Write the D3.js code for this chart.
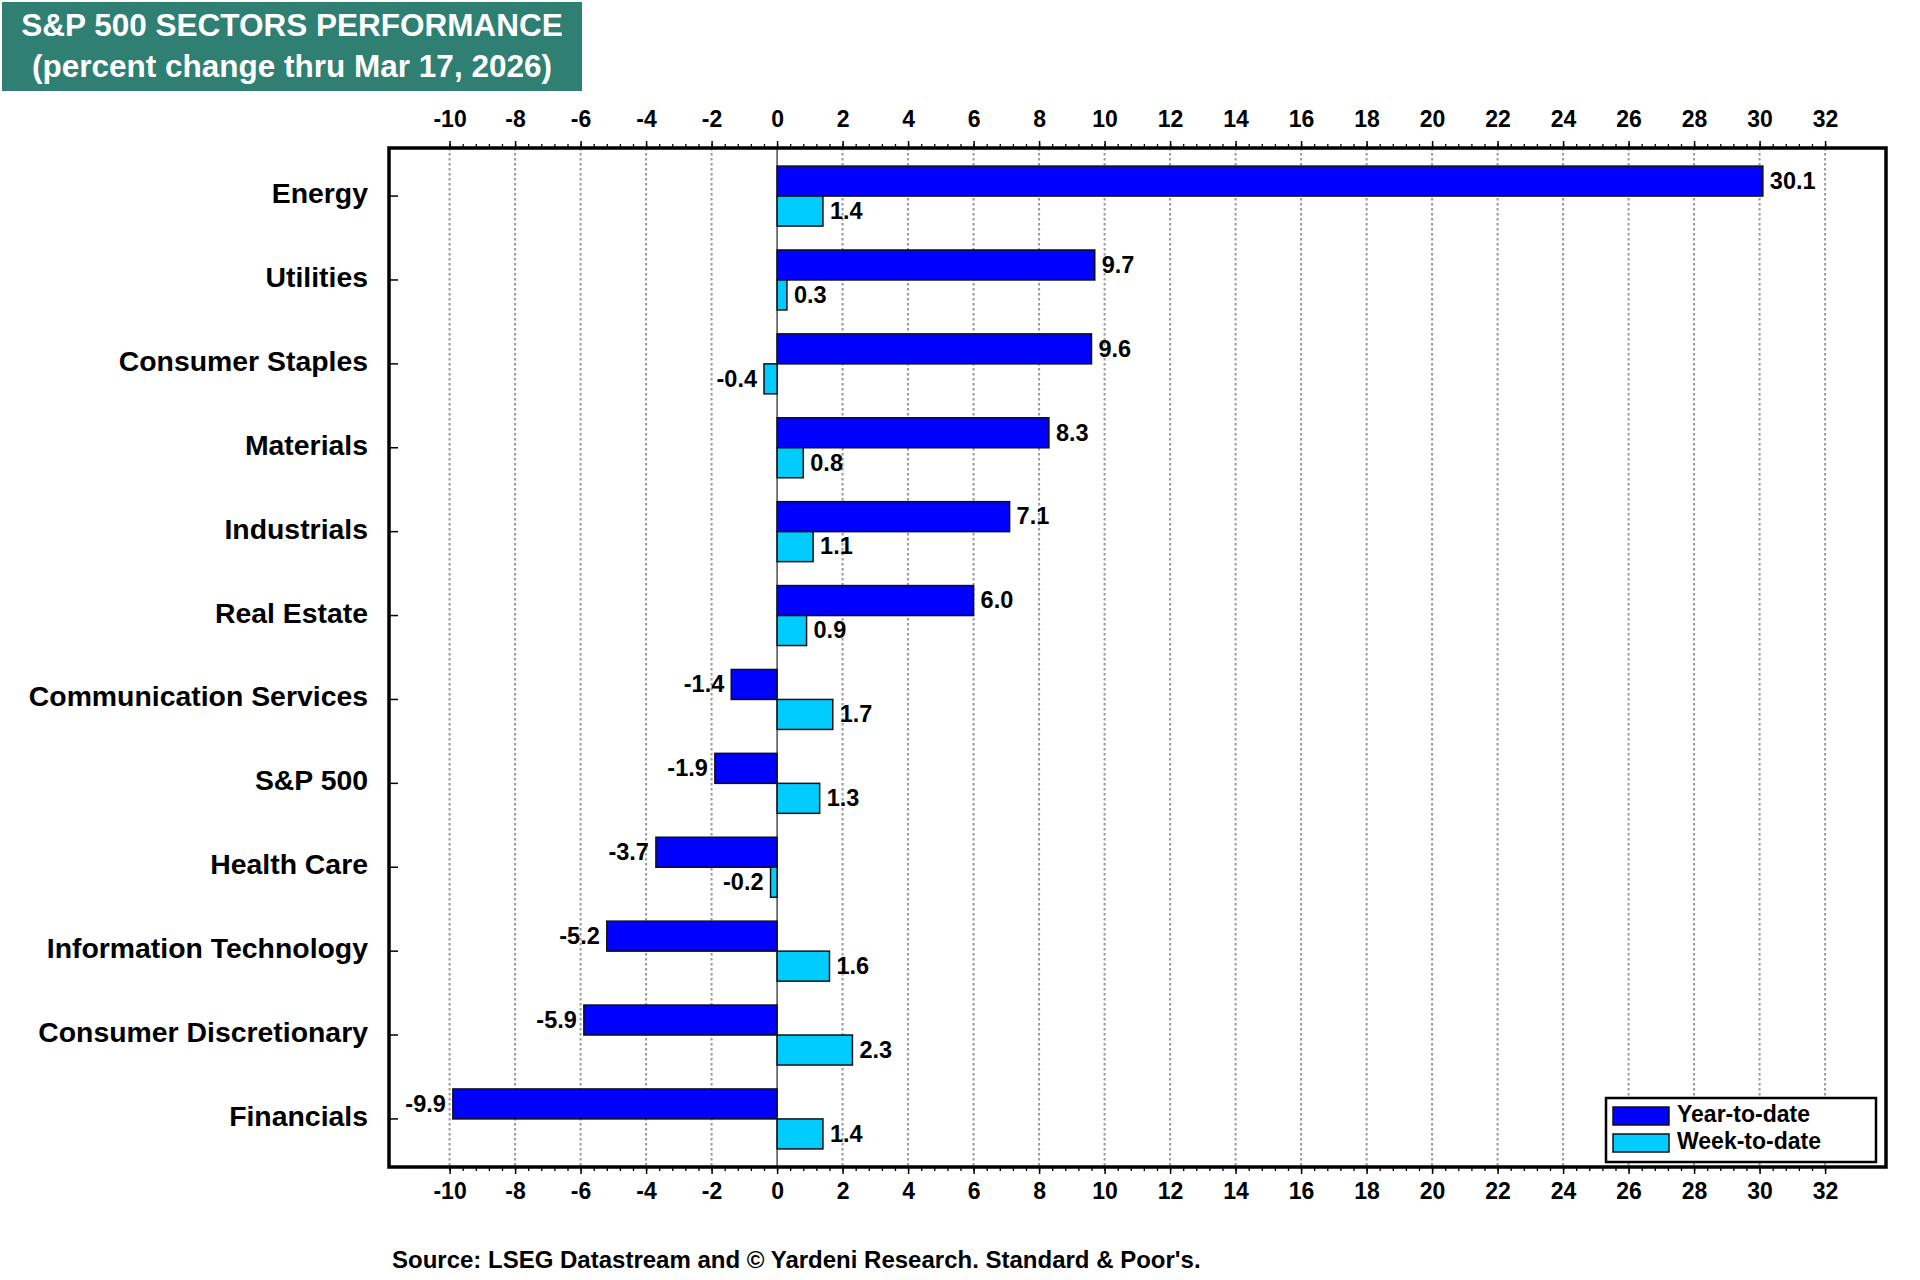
<!DOCTYPE html>
<html>
<head>
<meta charset="utf-8">
<script src="https://d3js.org/d3.v7.min.js"></script>
<style>
    body { margin: 0; background: #ffffff; }
    text { font-family: "Liberation Sans", Arial, sans-serif; font-weight: bold; }
</style>
</head>
<body>
<script>
    // sectors, top to bottom
    var categories = ["Energy", "Utilities", "Consumer Staples", "Materials", "Industrials",
        "Real Estate", "Communication Services", "S&P 500", "Health Care",
        "Information Technology", "Consumer Discretionary", "Financials"];
    var ytdValues = [30.1, 9.7, 9.6, 8.3, 7.1, 6.0, -1.4, -1.9, -3.7, -5.2, -5.9, -9.9];
    var wtdValues = [1.4, 0.3, -0.4, 0.8, 1.1, 0.9, 1.7, 1.3, -0.2, 1.6, 2.3, 1.4];
    var seriesNames = ["Year-to-date", "Week-to-date"];
    var majorTicks = [-10, -8, -6, -4, -2, 0, 2, 4, 6, 8, 10, 12, 14, 16, 18, 20, 22, 24, 26, 28, 30, 32];
    var titleLines = ["S&P 500 SECTORS PERFORMANCE", "(percent change thru Mar 17, 2026)"];
    var sourceText = "Source: LSEG Datastream and \u00a9 Yardeni Research. Standard & Poor's.";

    var W = 1920, H = 1280;
    var frame = {left: 389, top: 148, right: 1886, bottom: 1167};
    var colors = {"Year-to-date": "#0000ff", "Week-to-date": "#00ccff"};

    var svg = d3.select("body").append("svg")
        .attr("width", W)
        .attr("height", H);

    var x = d3.scaleLinear()
        .domain([-11.85, 33.86])
        .range([frame.left, frame.right]);

    var y = d3.scaleBand()
        .domain(categories)
        .range([frame.top, frame.bottom])
        .paddingInner(0.285)
        .paddingOuter(0.2155);

    var ySub = d3.scaleBand()
        .domain(seriesNames)
        .range([0, y.bandwidth()]);

    var rows = categories.map(function(c, i) {
        return {cat: c, values: [
            {name: seriesNames[0], value: ytdValues[i]},
            {name: seriesNames[1], value: wtdValues[i]}
        ]};
    });

    // title box
    svg.append("rect")
        .attr("x", 2).attr("y", 2)
        .attr("width", 580).attr("height", 89)
        .attr("fill", "#2f7f72");
    svg.selectAll(".title")
        .data(titleLines)
        .enter().append("text")
        .attr("class", "title")
        .attr("x", 292)
        .attr("y", function(d, i) { return 36 + i * 41; })
        .attr("text-anchor", "middle")
        .attr("fill", "#ffffff")
        .style("font-size", "31.5px")
        .text(function(d) { return d; });

    // grid lines
    svg.selectAll(".grid")
        .data(majorTicks.filter(function(d) { return d !== 0; }))
        .enter().append("line")
        .attr("class", "grid")
        .attr("x1", function(d) { return x(d); })
        .attr("x2", function(d) { return x(d); })
        .attr("y1", frame.top)
        .attr("y2", frame.bottom)
        .attr("stroke", "#999999")
        .attr("stroke-width", 2)
        .attr("stroke-dasharray", "2.5,2.5");

    // zero line
    svg.append("line")
        .attr("x1", x(0)).attr("x2", x(0))
        .attr("y1", frame.top).attr("y2", frame.bottom)
        .attr("stroke", "#222")
        .attr("stroke-width", 1.2);

    // bars
    var groups = svg.selectAll(".row")
        .data(rows)
        .enter().append("g")
        .attr("class", "row")
        .attr("transform", function(d) { return "translate(0," + y(d.cat) + ")"; });

    groups.selectAll("rect")
        .data(function(d) { return d.values; })
        .enter().append("rect")
        .attr("x", function(d) { return x(Math.min(0, d.value)); })
        .attr("y", function(d) { return ySub(d.name); })
        .attr("width", function(d) { return Math.abs(x(d.value) - x(0)); })
        .attr("height", ySub.bandwidth())
        .attr("fill", function(d) { return colors[d.name]; })
        .attr("stroke", "#111")
        .attr("stroke-width", 1.5);

    groups.selectAll(".val")
        .data(function(d) { return d.values; })
        .enter().append("text")
        .attr("class", "val")
        .attr("x", function(d) { return d.value >= 0 ? x(d.value) + 7 : x(d.value) - 7; })
        .attr("y", function(d) { return ySub(d.name) + ySub.bandwidth() / 2; })
        .attr("dy", "0.33em")
        .attr("text-anchor", function(d) { return d.value >= 0 ? "start" : "end"; })
        .style("font-size", "23.5px")
        .text(function(d) { return d.value.toFixed(1); });

    // category labels and their ticks
    svg.selectAll(".cat")
        .data(categories)
        .enter().append("text")
        .attr("class", "cat")
        .attr("x", 368)
        .attr("y", function(d) { return y(d) + y.bandwidth() / 2 - 1.5; })
        .attr("dy", "0.3em")
        .attr("text-anchor", "end")
        .style("font-size", "28.4px")
        .text(function(d) { return d; });

    svg.selectAll(".ctick")
        .data(categories)
        .enter().append("line")
        .attr("class", "ctick")
        .attr("x1", frame.left).attr("x2", frame.left + 9)
        .attr("y1", function(d) { return y(d) + y.bandwidth() / 2; })
        .attr("y2", function(d) { return y(d) + y.bandwidth() / 2; })
        .attr("stroke", "#000")
        .attr("stroke-width", 1.5);

    // axes top and bottom
    var minorTicks = d3.range(0, 106).map(function(i) { return -10 + i * 0.4; });

    function drawAxis(axisFn, ypos, pad) {
        var gMinor = svg.append("g")
            .attr("transform", "translate(0," + ypos + ")")
            .call(axisFn(x).tickValues(minorTicks).tickSize(4).tickFormat(""));
        gMinor.select(".domain").remove();
        gMinor.selectAll("line").attr("stroke-width", 1.3);

        var gMajor = svg.append("g")
            .attr("transform", "translate(0," + ypos + ")")
            .call(axisFn(x).tickValues(majorTicks).tickSize(7).tickPadding(pad)
                .tickFormat(function(d) { return String(d); }));
        gMajor.select(".domain").remove();
        gMajor.selectAll("line").attr("stroke-width", 1.5);
        gMajor.selectAll("text")
            .attr("fill", "#000")
            .style("font-size", "23px")
            .style("font-family", '"Liberation Sans", Arial, sans-serif')
            .style("font-weight", "bold");
    }
    drawAxis(d3.axisTop, frame.top, 14);
    drawAxis(d3.axisBottom, frame.bottom, 9);

    // frame
    svg.append("rect")
        .attr("x", frame.left).attr("y", frame.top)
        .attr("width", frame.right - frame.left)
        .attr("height", frame.bottom - frame.top)
        .attr("fill", "none")
        .attr("stroke", "#000")
        .attr("stroke-width", 3.5);

    // legend
    var legend = svg.append("g").attr("transform", "translate(1606,1098)");
    legend.append("rect")
        .attr("width", 270).attr("height", 64)
        .attr("fill", "#fff")
        .attr("stroke", "#000")
        .attr("stroke-width", 2.5);
    var li = legend.selectAll(".li")
        .data(seriesNames)
        .enter().append("g")
        .attr("class", "li")
        .attr("transform", function(d, i) { return "translate(7," + (9 + i * 27) + ")"; });
    li.append("rect")
        .attr("width", 56).attr("height", 18)
        .attr("fill", function(d) { return colors[d]; })
        .attr("stroke", "#111")
        .attr("stroke-width", 1.5);
    li.append("text")
        .attr("x", 64).attr("y", 7.5)
        .attr("dy", "0.34em")
        .style("font-size", "23px")
        .text(function(d) { return d; });

    // source
    svg.append("text")
        .attr("x", 392).attr("y", 1268)
        .style("font-size", "24px")
        .text(sourceText);
</script>
</body>
</html>
